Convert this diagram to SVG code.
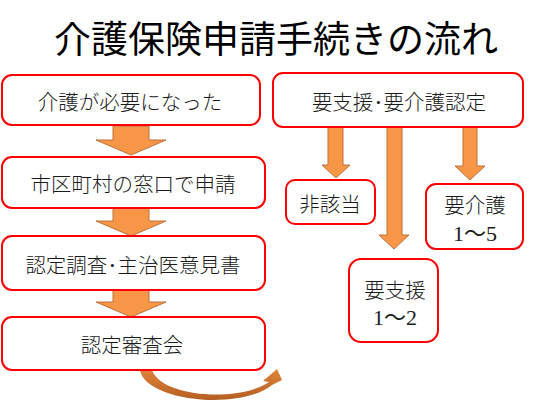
<svg xmlns="http://www.w3.org/2000/svg" width="548" height="403" viewBox="0 0 548 403">
<defs>
<style>
.box{fill:#fff;stroke:#ff0000;stroke-width:2}
.t{font-family:"Noto Sans CJK JP","Noto Sans CJK SC",sans-serif;font-size:20.5px;font-weight:300;fill:#1a1a1a;text-anchor:middle}
.n{font-family:"Liberation Serif","Noto Sans CJK JP",serif;font-size:22px;fill:#1a1a1a;text-anchor:middle}
.arr{fill:#f79646;stroke:#c0703a;stroke-width:1}
</style>
<linearGradient id="cg" x1="0" y1="0" x2="0" y2="1">
<stop offset="0" stop-color="#e0843a"/>
<stop offset="1" stop-color="#b55f22"/>
</linearGradient>
</defs>
<rect width="548" height="403" fill="#fff"/>
<text x="276" y="53" font-family="'Noto Sans CJK JP','Noto Sans CJK SC',sans-serif" font-size="37" fill="#000" text-anchor="middle">介護保険申請手続きの流れ</text>

<g id="connectors">
<path class="arr" d="M113 126 H149 V140 H166 L131 155 L96 140 H113 Z"/>
<path class="arr" d="M113 208 H149 V221 H166 L131 236 L96 221 H113 Z"/>
<path class="arr" d="M113 290 H149 V302 H166 L131 317 L96 302 H113 Z"/>
<path class="arr" d="M328 127 H343 V165 H350 L336 178 L322 165 H328 Z"/>
<path class="arr" d="M387 127 H402 V235 H409 L394 249 L379 235 H387 Z"/>
<path class="arr" d="M463 127 H477 V166 H485 L470 180 L455 166 H463 Z"/>
<path fill="url(#cg)" d="M140 370 C144 400 238 412 272 385 L282 380 L277 369 L263 381 L269 382 C240 402 162 398 152 370 Z"/>
</g>

<g id="n1"><rect class="box" x="2" y="75" width="258" height="50" rx="10"/><text class="t" x="130" y="110">介護が必要になった</text></g>
<g id="n2"><rect class="box" x="2" y="157" width="263" height="51" rx="10"/><text class="t" x="133" y="192">市区町村の窓口で申請</text></g>
<g id="n3"><rect class="box" x="2" y="236" width="263" height="54" rx="10"/><text class="t" x="133" y="273">認定調査･主治医意見書</text></g>
<g id="n4"><rect class="box" x="2" y="317" width="263" height="53" rx="10"/><text class="t" x="132" y="353">認定審査会</text></g>
<g id="n5"><rect class="box" x="273" y="73" width="250" height="54" rx="10"/><text class="t" x="399" y="110">要支援･要介護認定</text></g>
<g id="n6"><rect class="box" x="286" y="180" width="89" height="44" rx="9"/><text class="t" x="330" y="212">非該当</text></g>
<g id="n7"><rect class="box" x="426" y="184" width="97" height="65" rx="10"/><text class="t" x="475" y="213">要介護</text><text class="n" x="475" y="241">1～5</text></g>
<g id="n8"><rect class="box" x="349" y="259" width="89" height="83" rx="12"/><text class="t" x="395" y="298">要支援</text><text class="n" x="395" y="325">1～2</text></g>
</svg>
